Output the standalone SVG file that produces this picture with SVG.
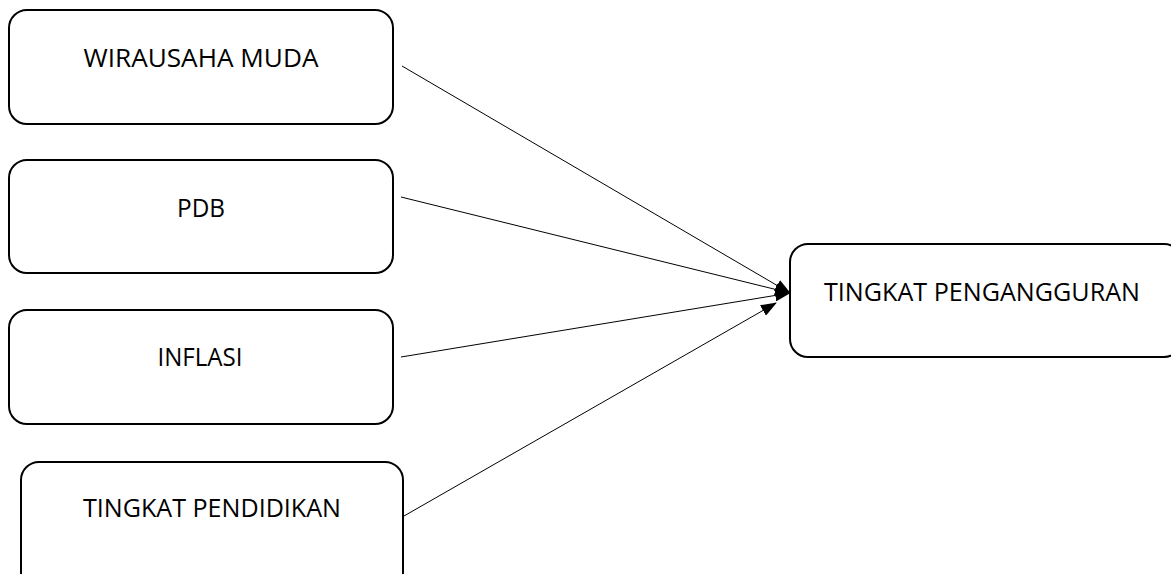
<svg xmlns="http://www.w3.org/2000/svg" width="1171" height="574" viewBox="0 0 1171 574">
<style>
.box{fill:#fff;stroke:#000;stroke-width:2}
.lbl{font-family:"Open Sans","Liberation Sans",sans-serif;font-size:25px;fill:#000;text-anchor:middle}
.con{stroke:#000;stroke-width:1;fill:none;marker-end:url(#ah)}
</style>
<defs>
<marker id="ah" markerWidth="16" markerHeight="12" refX="15" refY="6" orient="auto" markerUnits="userSpaceOnUse">
<path d="M0,0 L16,6 L0,12 Z" fill="#000"/>
</marker>
</defs>
<rect width="1171" height="574" fill="#fff"/>
<g id="connectors">
<line class="con" x1="402" y1="66" x2="790" y2="293"/>
<line class="con" x1="401" y1="197" x2="790" y2="293"/>
<line class="con" x1="401" y1="357" x2="790" y2="293"/>
<line class="con" x1="404" y1="516" x2="776" y2="303"/>
</g>
<g id="wirausaha">
<rect class="box" x="9" y="10" width="384" height="114" rx="18"/>
<text class="lbl" x="201" y="67" textLength="235" lengthAdjust="spacingAndGlyphs">WIRAUSAHA MUDA</text>
</g>
<g id="pdb">
<rect class="box" x="9" y="160" width="384" height="113" rx="18"/>
<text class="lbl" x="201" y="217" textLength="48" lengthAdjust="spacingAndGlyphs">PDB</text>
</g>
<g id="inflasi">
<rect class="box" x="9" y="310" width="384" height="114" rx="18"/>
<text class="lbl" x="200" y="366" textLength="85" lengthAdjust="spacingAndGlyphs">INFLASI</text>
</g>
<g id="pendidikan">
<rect class="box" x="21" y="462" width="382" height="130" rx="18"/>
<text class="lbl" x="212" y="517" textLength="258" lengthAdjust="spacingAndGlyphs">TINGKAT PENDIDIKAN</text>
</g>
<g id="pengangguran">
<rect class="box" x="790" y="244" width="392" height="113" rx="18"/>
<text class="lbl" x="982" y="301" textLength="316" lengthAdjust="spacingAndGlyphs">TINGKAT PENGANGGURAN</text>
</g>
</svg>
